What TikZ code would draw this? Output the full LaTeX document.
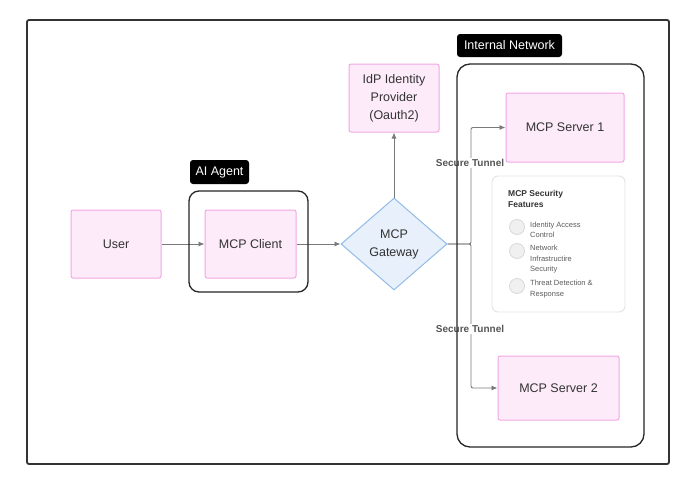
\documentclass[tikz,border=0pt]{standalone}
\usepackage{fontspec}
\setmainfont{Liberation Sans}
\usetikzlibrary{shapes.geometric,arrows.meta}
\definecolor{pinkfill}{HTML}{FDEBFA}
\definecolor{pinkdraw}{HTML}{F2A7E4}
\definecolor{bluefill}{HTML}{E7F0FB}
\definecolor{bluedraw}{HTML}{93BCE9}
\definecolor{txt}{HTML}{333333}
\definecolor{connc}{HTML}{7A7A7A}
\definecolor{tunnelc}{HTML}{555555}
\definecolor{featdraw}{HTML}{E3E3E3}
\definecolor{circfill}{HTML}{F0F0F0}
\definecolor{circdraw}{HTML}{D8D8D8}
\definecolor{frame}{HTML}{333333}
\begin{document}
\begin{tikzpicture}[x=1pt,y=-1pt,
  pinkbox/.style={draw=pinkdraw, fill=pinkfill, line width=1pt, rounded corners=2pt, text=txt,
    font=\fontsize{12.5}{18}\selectfont, align=center, inner sep=0pt},
  container/.style={draw=black!85, line width=1.3pt, inner sep=0pt},
  tagbox/.style={fill=black, text=white, rounded corners=3pt, font=\fontsize{12.5}{15}\selectfont, inner sep=0pt},
  conn/.style={draw=connc, line width=0.9pt, -{Latex[length=6pt,width=5pt]}},
  tunnellbl/.style={fill=white, text=tunnelc, font=\bfseries\fontsize{10}{12}\selectfont, inner sep=1pt},
  featitem/.style={text=txt!80, font=\fontsize{7.5}{10.5}\selectfont, align=left, anchor=west, inner sep=0pt},
  featcirc/.style={circle, draw=circdraw, fill=circfill, line width=0.8pt, minimum size=15pt, inner sep=0pt}
]
\useasboundingbox (0,0) rectangle (685,479);
\fill[white] (0,0) rectangle (685,479);
% outer frame
\draw[frame, line width=1.8pt, rounded corners=2pt] (27,20) rectangle (669,464);

% boxes
\node[pinkbox, minimum width=90pt, minimum height=68pt] (user) at (116,244) {User};
\node[pinkbox, minimum width=91pt, minimum height=68pt] (client) at (250.5,244) {MCP Client};
\node[shape=diamond, draw=bluedraw, fill=bluefill, line width=1pt, minimum width=106pt, minimum height=92pt,
  inner sep=0pt, align=center, text=txt, font=\fontsize{12.5}{18}\selectfont] (gw) at (394,244) {MCP\\Gateway};
\node[pinkbox, minimum width=90pt, minimum height=68pt] (idp) at (394,98) {IdP Identity\\Provider\\(Oauth2)};
\node[pinkbox, minimum width=118pt, minimum height=69pt] (s1) at (565,127.5) {MCP Server 1};
\node[pinkbox, minimum width=121pt, minimum height=64pt] (s2) at (558.5,388) {MCP Server 2};

% security features
\node[draw=featdraw, fill=white, line width=0.9pt, rounded corners=6pt, minimum width=133pt, minimum height=136pt, inner sep=0pt] (feat) at (558.5,244) {};
\node[anchor=north west, inner sep=0pt, align=left, text=txt, font=\bfseries\fontsize{8.5}{11}\selectfont] (feattitle) at (508,190) {MCP Security\\Features};
\node[featcirc] (c1) at (517,227) {};
\node[featcirc] (c2) at (517,251) {};
\node[featcirc] (c3) at (517,286) {};
\node[featitem] (f1) at (530,230) {Identity Access\\Control};
\node[featitem] (f2) at (530,259.5) {Network\\Infrastructire\\Security};
\node[featitem] (f3) at (530,289) {Threat Detection \&\\Response};

% connectors
\coordinate (split) at (471,244);
\draw[conn] (user) -- (client);
\draw[conn] (client) -- (gw.west);
\draw[conn] (gw.north) -- (idp.south);
\draw[conn, rounded corners=2pt] (gw.east) -- (split) |- (s1.west);
\draw[conn, rounded corners=2pt] (gw.east) -- (split) |- (s2.west);

% tunnel labels
\node[tunnellbl] (t1) at (470,163) {Secure Tunnel};
\node[tunnellbl] (t2) at (470,329) {Secure Tunnel};

% containers and tags
\node[container, rounded corners=10pt, minimum width=119pt, minimum height=101pt] (agent) at (248.5,241.5) {};
\node[tagbox, minimum width=59pt, minimum height=24pt] (agenttag) at (219.5,172) {AI Agent};
\node[container, rounded corners=13pt, minimum width=187pt, minimum height=383pt] (net) at (550.5,255.5) {};
\node[tagbox, minimum width=105pt, minimum height=23pt] (nettag) at (509.5,45.5) {Internal Network};
\end{tikzpicture}
\end{document}
